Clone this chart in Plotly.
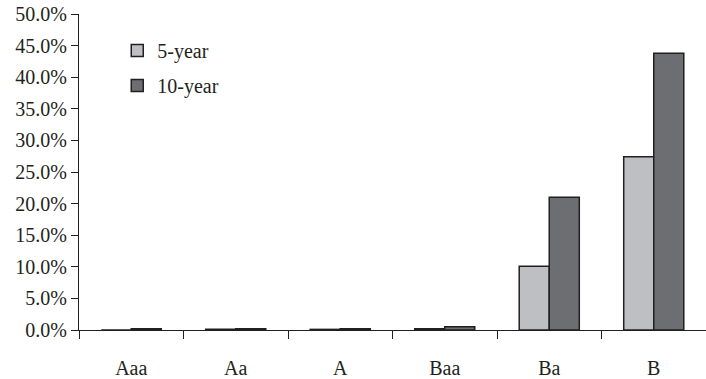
import plotly.graph_objects as go

categories = ["Aaa", "Aa", "A", "Baa", "Ba", "B"]
five_year = [0.0, 0.1, 0.1, 0.2, 10.1, 27.4]
ten_year = [0.2, 0.2, 0.2, 0.5, 21.0, 43.8]
y_ticks = [0, 5, 10, 15, 20, 25, 30, 35, 40, 45, 50]
y_tick_labels = [f"{v:.1f}%" for v in y_ticks]

FONT = "Liberation Serif"
OUTLINE = "#231f20"

fig = go.Figure()
fig.add_trace(go.Bar(
    name="5-year", x=categories, y=five_year, legendgroup="g5",
    marker=dict(color="#bdbfc3", line=dict(color=OUTLINE, width=1.5)),
))
fig.add_trace(go.Bar(
    name="10-year", x=categories, y=ten_year, legendgroup="g10",
    marker=dict(color="#6d6e72", line=dict(color=OUTLINE, width=1.5)),
))

fig.update_layout(
    width=706, height=379,
    margin=dict(l=79, r=0, t=14, b=49, autoexpand=False),
    paper_bgcolor="white", plot_bgcolor="white",
    barmode="group", bargap=0.425, bargroupgap=0,
    font=dict(family=FONT, size=20, color="#231f20"),
    legend=dict(x=0.061, y=0.946, xanchor="left", yanchor="top",
                font=dict(family=FONT, size=20),
                bgcolor="rgba(0,0,0,0)", itemwidth=30, tracegroupgap=6),
    showlegend=True,
)
fig.update_xaxes(
    showline=True, linecolor=OUTLINE, linewidth=1.2,
    ticks="outside", ticklen=8, tickcolor=OUTLINE, tickwidth=1.2,
    tickson="boundaries", showgrid=False, ticklabelstandoff=20,
    tickfont=dict(family=FONT, size=20), automargin=False,
    ticklabeloverflow="allow",
)
fig.update_yaxes(
    range=[0, 50], tickvals=y_ticks, ticktext=y_tick_labels,
    showline=True, linecolor=OUTLINE, linewidth=1.2,
    ticks="outside", ticklen=7, tickcolor=OUTLINE, tickwidth=1.2,
    showgrid=False, zeroline=False, automargin=False,
    tickfont=dict(family=FONT, size=20), ticklabeloverflow="allow",
)

# remove the page's default 8px body margin so the figure fills the window
fig.write_html(
    "out.html",
    config={"displayModeBar": False},
    post_script="document.body.style.margin='0';",
)
